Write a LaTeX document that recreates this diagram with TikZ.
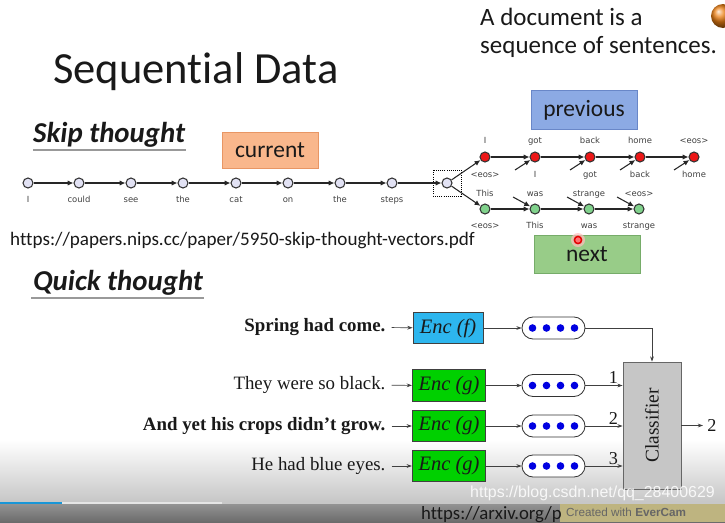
\documentclass[tikz,border=0pt]{standalone}
\usepackage{fontspec}
\setmainfont{Carlito}[Ligatures={NoCommon}]
\newfontfamily\labfont{DejaVu Sans}
\newfontfamily\qtfont{Liberation Serif}
\newfontfamily\wmfont{Liberation Sans}
\usetikzlibrary{arrows.meta,positioning,calc}

\definecolor{txt}{RGB}{25,25,25}
\definecolor{curfill}{RGB}{249,183,140}
\definecolor{curdraw}{RGB}{232,150,100}
\definecolor{prevfill}{RGB}{140,170,228}
\definecolor{prevdraw}{RGB}{105,135,200}
\definecolor{nextfill}{RGB}{152,204,136}
\definecolor{nextdraw}{RGB}{118,172,105}
\definecolor{tokfill}{RGB}{226,226,244}
\definecolor{redtok}{RGB}{236,22,22}
\definecolor{greentok}{RGB}{128,210,140}
\definecolor{encf}{RGB}{45,182,238}
\definecolor{encg}{RGB}{0,208,0}
\definecolor{clsfill}{RGB}{198,198,198}
\definecolor{dotblue}{RGB}{0,0,225}
\definecolor{barblue}{RGB}{25,150,215}
\definecolor{evercam}{RGB}{190,180,128}

\begin{document}
\begin{tikzpicture}[
  x=0.03cm, y=-0.03cm,
  >=Latex,
  tok/.style={circle, draw=black!80, fill=tokfill, line width=0.9pt, minimum size=0.3cm, inner sep=0pt},
  rtok/.style={tok, fill=redtok},
  gtok/.style={tok, fill=greentok},
  tlab/.style={font=\labfont\fontsize{7.2}{8}\selectfont, text=black!75, inner sep=0pt, anchor=base},
  seq/.style={->, line width=0.9pt, black!85, >={Latex[length=5pt,width=4.5pt]}},
  tag/.style={rectangle, draw, line width=0.6pt, minimum width=3.18cm, minimum height=1.18cm, font=\fontsize{20}{24}\selectfont, text=txt},
  head/.style={font=\fontsize{24.6}{28}\selectfont\bfseries\itshape, text=txt, anchor=base west, inner sep=0pt},
  uline/.style={line width=1.6pt, gray!80},
  sent/.style={font=\qtfont\fontsize{16.1}{18}\selectfont, anchor=east, inner sep=2pt, text=txt},
  enc/.style={rectangle, draw=black!75, line width=0.7pt, minimum width=2.2cm, minimum height=0.95cm, font=\qtfont\itshape\fontsize{17.5}{19}\selectfont, text=txt},
  pill/.style={rectangle, rounded corners=0.33cm, draw=black!80, line width=0.7pt, fill=white, minimum width=1.89cm, minimum height=0.66cm},
  qa/.style={->, line width=0.6pt, black!75, >={Stealth[length=4.5pt,width=3.2pt]}},
  num/.style={font=\qtfont\fontsize{15.5}{18}\selectfont, text=txt, inner sep=1pt}
]
\fill[white] (0,0) rectangle (725,522);
\useasboundingbox (0,0) rectangle (725,522);

\shade[top color=white, bottom color=black!22] (0,440) rectangle (725,501.5);
\shade[top color=black!42, bottom color=black!58] (0,503.5) rectangle (725,522);
\fill[black!22] (0,501.5) rectangle (725,503.5);
\fill[black!10] (62,501.5) rectangle (222,503.5);
\fill[barblue] (0,501.5) rectangle (62,503.5);

\node[anchor=base west, font=\fontsize{38}{44}\selectfont, text=txt, inner sep=0pt] (title) at (53,83) {Sequential Data};
\node[anchor=base west, font=\fontsize{21.3}{25}\selectfont, text=txt, inner sep=0pt] (doca) at (480,25) {A document is a};
\node[anchor=base west, font=\fontsize{21.3}{25}\selectfont, text=txt, inner sep=0pt] (docb) at (480,53) {sequence of sentences.};
\shade[ball color=orange!70!brown] (723,16) circle (12);

\node[head] (skip) at (33,142) {Skip thought};
\draw[uline] (33,150) -- (186,150);

\node[tag, draw=curdraw, fill=curfill, minimum width=2.88cm, minimum height=1.08cm] (cur) at (270,150) {current};
\node[tag, draw=prevdraw, fill=prevfill] (prev) at (584,110) {previous};
\node[tag, draw=nextdraw, fill=nextfill, minimum height=1.14cm] (next) at (587,254) {next};

\foreach \x/\w [count=\i] in {28/I,79/could,131/see,183/the,236/cat,288/on,340/the,392/steps} {
  \node[tok] (w\i) at (\x,183) {};
  \node[tlab] (l\i) at (\x,202) {\w};
}
\foreach \a/\b in {1/2,2/3,3/4,4/5,5/6,6/7,7/8} \draw[seq] (w\a) -- (w\b);

\node[draw, densely dotted, line width=0.8pt, minimum width=0.84cm, minimum height=0.78cm] (spbox) at (447,183) {};
\node[tok] (sp) at (447,183) {};
\draw[seq] (w8) -- (sp);

\foreach \x/\up/\dn [count=\i] in {485/I/<eos>,535/got/I,590/back/got,640/home/back,694/<eos>/home} {
  \node[rtok] (r\i) at (\x,157) {};
  \node[tlab] (ru\i) at (\x,143) {\up};
  \node[tlab] (rd\i) at (\x,177) {\dn};
}
\foreach \x/\up/\dn [count=\i] in {485/This/<eos>,535/was/This,589/strange/was,639/<eos>/strange} {
  \node[gtok] (g\i) at (\x,209) {};
  \node[tlab] (gu\i) at (\x,196) {\up};
  \node[tlab] (gd\i) at (\x,228) {\dn};
}
\draw[seq] (sp) -- (r1);
\draw[seq] (sp) -- (g1);
\foreach \a/\b in {1/2,2/3,3/4,4/5} \draw[seq] (r\a) -- (r\b);
\foreach \a/\b in {1/2,2/3,3/4} \draw[seq] (g\a) -- (g\b);
\foreach \i in {2,3,4,5} {
  \coordinate (ri\i) at ($(r\i)+(-20,13)$);
  \draw[seq] (ri\i) -- (r\i);
}
\foreach \i in {2,3,4} {
  \coordinate (gi\i) at ($(g\i)+(-22,-12)$);
  \draw[seq] (gi\i) -- (g\i);
}

\node[anchor=base west, font=\fontsize{16.3}{19}\selectfont, text=txt, inner sep=0pt] (url) at (10,245) {https://papers.nips.cc/paper/5950-skip-thought-vectors.pdf};

\fill[red!25, opacity=0.7] (578,240) circle (7);
\draw[red!90!black, fill=red!55!white, line width=1.3pt] (578,240) circle (3.6);

\node[head] (quick) at (33,290) {Quick thought};
\draw[uline] (31,298) -- (204,298);

\node[sent] (s1) at (388,327) {\bfseries Spring had come.};
\node[sent] (s2) at (388,385) {They were so black.};
\node[sent] (s3) at (388,426) {\bfseries And yet his crops didn’t grow.};
\node[sent] (s4) at (388,466) {He had blue eyes.};

\node[enc, fill=encf, minimum width=2.1cm] (e1) at (448,328) {Enc (f)};
\node[enc, fill=encg] (e2) at (449,385.5) {Enc (g)};
\node[enc, fill=encg] (e3) at (449,426) {Enc (g)};
\node[enc, fill=encg] (e4) at (449,466) {Enc (g)};

\foreach \i/\y in {1/328,2/385.5,3/426,4/466} {
  \node[pill] (p\i) at (553.5,\y) {};
  \foreach \d in {-21,-7,7,21} \fill[dotblue] ($(p\i)+(\d,0)$) circle (3.8);
  \draw[qa, shorten <=3pt] (s\i) -- (e\i);
  \draw[qa] (e\i) -- (p\i);
}

\node[rectangle, draw=black!60, fill=clsfill, line width=0.7pt, minimum width=1.74cm, minimum height=3.81cm] (cls) at (652,425.5) {};
\node[rotate=90, font=\qtfont\fontsize{16.5}{18}\selectfont, text=txt] (clslab) at (cls.center) {Classifier};

\draw[qa] (p1.east) -| (cls.north);
\draw[qa] (p2.east) -- (p2.east -| cls.west) node[num, pos=0.75, above] (n1) {1};
\draw[qa] (p3.east) -- (p3.east -| cls.west) node[num, pos=0.75, above] (n2) {2};
\draw[qa] (p4.east) -- (p4.east -| cls.west) node[num, pos=0.75, above] (n3) {3};
\coordinate (out) at (703,425.5);
\draw[qa] (cls.east) -- (out);
\node[num, anchor=west] (res) at (706,425.5) {2};

\fill[evercam] (560,504) rectangle (725,522);
\node[anchor=base west, font=\wmfont\fontsize{10}{12}\selectfont, text=black!60, inner sep=0pt] (ever) at (566,516) {Created with \textbf{EverCam}};
\node[anchor=base west, font=\fontsize{16}{18}\selectfont, text=black!90, inner sep=0pt] (arx) at (421,519) {https://arxiv.org/p};
\node[anchor=base west, font=\wmfont\fontsize{13.6}{16}\selectfont, text=white, opacity=0.85, inner sep=0pt] (wm) at (470,497) {https://blog.csdn.net/qq\_28400629};
\end{tikzpicture}
\end{document}
